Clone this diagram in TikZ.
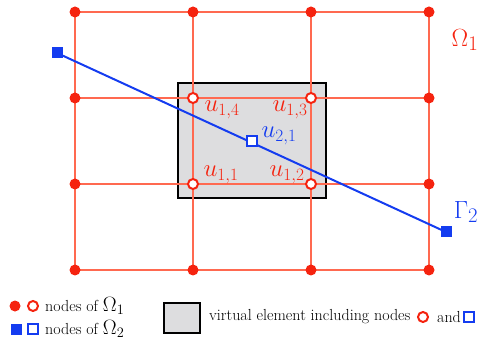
\documentclass[tikz,border=0pt]{standalone}
\definecolor{gridred}{RGB}{255,105,80}
\definecolor{dotred}{RGB}{245,35,15}
\definecolor{sqblue}{RGB}{20,60,240}
\definecolor{boxgray}{RGB}{221,221,223}
\begin{document}
\begin{tikzpicture}[x=1pt,y=-1pt,
  gridline/.style={draw=gridred,line width=1.1pt},
  fdot/.style={circle,fill=dotred,inner sep=0pt,minimum size=11pt},
  odot/.style={circle,draw=dotred,fill=white,line width=2pt,inner sep=0pt,minimum size=10pt},
  fsq/.style={rectangle,fill=sqblue,inner sep=0pt,minimum size=11pt},
  osq/.style={rectangle,draw=sqblue,fill=white,line width=2pt,inner sep=0pt,minimum size=10pt},
  ulab/.style={text=dotred,font=\fontsize{24}{28}\selectfont},
  vlab/.style={text=sqblue,font=\fontsize{24}{28}\selectfont},
  leg/.style={font=\fontsize{16}{19}\selectfont,anchor=west,inner sep=0pt}]
\useasboundingbox (0,0) rectangle (483,345);
% virtual element
\node[draw=black,line width=2pt,fill=boxgray,minimum width=148pt,minimum height=115pt,inner sep=0pt] (box) at (252,141) {};
% grid coordinates
\foreach \i/\x in {1/75,2/193,3/311,4/429}{
  \foreach \j/\y in {1/12,2/98,3/184,4/270}{
    \coordinate (g\i\j) at (\x,\y);
  }
}
\foreach \j in {1,2,3,4}{ \draw[gridline] (g1\j) -- (g4\j); }
\foreach \i in {1,2,3,4}{ \draw[gridline] (g\i1) -- (g\i4); }
% blue line
\node[fsq] (b1) at (57,53) {};
\node[fsq] (b2) at (446,232) {};
\draw[sqblue,line width=2pt] (b1.center) -- (b2.center);
\node[osq] (v21) at (251.5,141.5) {};
% filled dots
\foreach \n in {11,12,13,14,21,24,31,34,41,42,43,44}{ \node[fdot] (d\n) at (g\n) {}; }
% open dots
\foreach \n in {22,23,32,33}{ \node[odot] (d\n) at (g\n) {}; }
% labels
\node[ulab] (l14) at (222,110) {$u_{1,4}$};
\node[ulab] (l13) at (290,110) {$u_{1,3}$};
\node[ulab] (l11) at (221,175) {$u_{1,1}$};
\node[ulab] (l12) at (287,175) {$u_{1,2}$};
\node[vlab] (l21) at (279,136) {$u_{2,1}$};
\node[text=dotred,font=\fontsize{30}{34}\selectfont] (om) at (465,40) {$\Omega_1$};
\node[text=sqblue,font=\fontsize{30}{34}\selectfont] (ga) at (466,212) {$\Gamma_2$};
% legend
\node[fdot] (lf1) at (15,306) {};
\node[odot] (lo1) at (33,306) {};
\node[leg] (lt1) at (45,306) {nodes of {\fontsize{22}{24}\selectfont$\Omega_1$}};
\node[fsq] (lf2) at (16,329) {};
\node[osq] (lo2) at (33,329) {};
\node[leg] (lt2) at (45,329) {nodes of {\fontsize{22}{24}\selectfont$\Omega_2$}};
\node[draw=black,line width=2pt,fill=boxgray,minimum width=36pt,minimum height=30pt,inner sep=0pt] (lbox) at (181.5,317.5) {};
\node[leg] (lt3) at (209,317) {virtual element including nodes};
\node[odot] (lo3) at (423,317) {};
\node[leg] (lt4) at (437,317) {and};
\node[osq] (lo4) at (469,317) {};
\end{tikzpicture}
\end{document}
